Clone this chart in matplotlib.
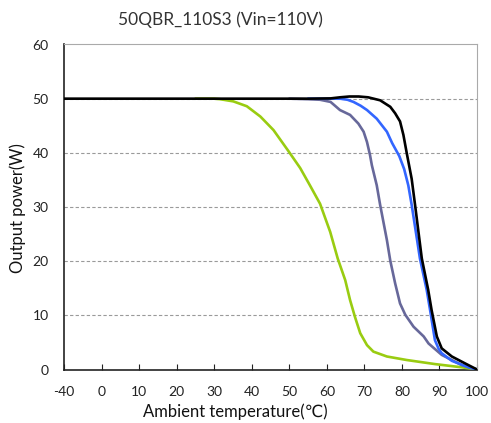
import numpy as np
import matplotlib
matplotlib.use("Agg")
import matplotlib.pyplot as plt

plt.rcParams['font.family'] = ['Lato', 'DejaVu Sans']

title = "50QBR_110S3 (Vin=110V)"
xlabel = "Ambient temperature(℃)"
ylabel = "Output power(W)"
xticks = [-40, 0, 10, 20, 30, 40, 50, 60, 70, 80, 90, 100]
yticks = [0, 10, 20, 30, 40, 50, 60]

# black curve
black_t = [-40, 0, 30, 55, 61, 63.5, 66, 68.5, 71, 74.2, 76.9, 78.2, 79.5, 80.4, 81.3, 82.6,
           83.5, 85.3, 87.0, 87.9, 89.3, 90.6, 93.3, 96.9, 100]
black_p = [50, 50, 50, 50, 50.05, 50.25, 50.4, 50.4, 50.25, 49.7, 48.5, 47.3, 45.8, 43.3, 39.9, 35.2,
           30.4, 20.5, 14.7, 11.0, 6.1, 3.9, 2.4, 1.1, 0]
# blue curve
blue_t = [55, 61, 63.5, 65.5, 67.1, 69, 70.7, 73.3, 76, 77.4, 79.3, 80.6, 81.7, 82.6, 84.8,
          86.6, 87.5, 88.8, 89.8, 90.6, 93.3, 97.7, 100]
blue_p = [50, 50, 50, 49.8, 49.4, 48.7, 47.9, 46.3, 43.9, 41.8, 39.4, 37.0, 34.0, 30.4, 20.5,
          14.7, 11.0, 5.4, 3.8, 3.0, 1.6, 0.4, 0]
# purple curve
purple_t = [50, 55, 58.2, 61, 63.5, 66.2, 68.4, 69.8, 70.7, 71.5, 72, 73.3, 74.2, 76, 76.9,
            78.2, 79.5, 80.9, 83.1, 85.8, 87.1, 90.6, 96, 100]
purple_p = [50, 49.9, 49.8, 49.4, 47.9, 47.0, 45.4, 43.9, 42.0, 39.6, 37.7, 34.0, 30.4, 23.9, 20.1,
            15.9, 12.2, 10.1, 7.9, 6.1, 4.8, 2.7, 0.8, 0]
# green curve
green_t = [25, 30, 31.6, 35.1, 38.7, 42.3, 45.8, 49.8, 52.9, 55.5, 58.2, 60.9, 62.9, 64.9,
           66.2, 67.5, 68.9, 70.7, 72.4, 76, 81.3, 88.8, 96, 100]
green_p = [50, 50, 49.9, 49.5, 48.6, 46.7, 44.2, 40.3, 37.2, 34.0, 30.6, 25.4, 20.5, 16.5,
           12.8, 9.7, 6.7, 4.5, 3.3, 2.4, 1.75, 1.0, 0.4, 0]


def fwd(t):
    t = np.asarray(t, dtype=float)
    return np.where(t < 0, t / 40.0, t / 10.0)


def inv(u):
    u = np.asarray(u, dtype=float)
    return np.where(u < 0, u * 40.0, u * 10.0)


fig = plt.figure(figsize=(4.91, 4.23), dpi=100)
ax = fig.add_axes([64 / 491, (423 - 369.5) / 423, (477 - 64) / 491, (369.5 - 44.5) / 423])
ax.set_xscale('function', functions=(fwd, inv))
ax.set_xlim(-40, 100)
ax.set_ylim(0, 60)

for yv in [10, 20, 30, 40, 50]:
    ax.axhline(yv, color='#9a9a9a', lw=0.8, ls=(0, (3, 2)), zorder=1)

lw = 1.9
kw = dict(lw=lw, solid_capstyle='round', solid_joinstyle='round')
ax.plot(green_t, green_p, color='#99cc11', zorder=3, **kw)
ax.plot(purple_t, purple_p, color='#67689a', zorder=4, **kw)
ax.plot(blue_t, blue_p, color='#3366ff', zorder=5, **kw)
ax.plot(black_t, black_p, color='#000000', zorder=6, **kw)

ax.set_xticks(xticks)
ax.set_xticklabels([str(v) for v in xticks])
ax.set_yticks(yticks)
ax.set_yticklabels([str(v) for v in yticks])
ax.minorticks_off()
ax.tick_params(axis='x', direction='in', length=4, width=0.8, pad=12, labelsize=10, colors='#222222')
ax.tick_params(axis='y', length=0, pad=11, labelsize=10, colors='#222222')

for s in ['top', 'right']:
    ax.spines[s].set_color('#aaaaaa')
    ax.spines[s].set_linewidth(0.8)
for s in ['left', 'bottom']:
    ax.spines[s].set_color('#222222')
    ax.spines[s].set_linewidth(1.2)

fig.text(220 / 491, 1 - 20 / 423, title, ha='center', va='center', fontsize=12.5, color='#333333')
fig.text(235 / 491, 1 - 412 / 423, xlabel, ha='center', va='center', fontsize=12, color='#111111')
fig.text(18 / 491, 1 - 208 / 423, ylabel, ha='center', va='center', rotation=90, fontsize=12, color='#111111')

fig.savefig('out.png', dpi=100)
